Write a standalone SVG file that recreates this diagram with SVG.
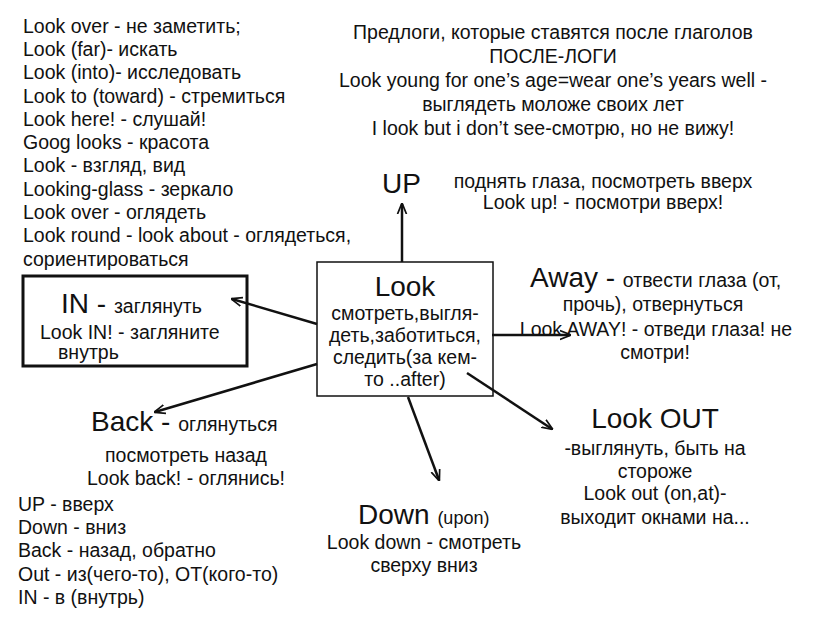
<svg xmlns="http://www.w3.org/2000/svg" width="831" height="623" viewBox="0 0 831 623">
<defs>
<style>
text{font-family:"Liberation Sans",Arial,sans-serif;fill:#111}
.t{font-size:19.5px}
.big{font-size:28px}
.c{text-anchor:middle}
.ln{stroke:#111;stroke-width:2.5;fill:none}
</style>
<marker id="ah" viewBox="0 0 10 10" refX="9" refY="5" markerWidth="4.5" markerHeight="4.5" orient="auto" markerUnits="strokeWidth">
<path d="M0,1 L10,5 L0,9" fill="none" stroke="#111" stroke-width="1.5"/>
</marker>
</defs>
<rect width="831" height="623" fill="#fff"/>

<g id="notes-left">
<text class="t" x="23" y="33">Look over - не заметить;</text>
<text class="t" x="23" y="56">Look (far)- искать</text>
<text class="t" x="23" y="79">Look (into)- исследовать</text>
<text class="t" x="23" y="103">Look to (toward) - стремиться</text>
<text class="t" x="23" y="126">Look here! - слушай!</text>
<text class="t" x="23" y="149">Goog looks - красота</text>
<text class="t" x="23" y="172">Look - взгляд, вид</text>
<text class="t" x="23" y="196">Looking-glass - зеркало</text>
<text class="t" x="23" y="219">Look over - оглядеть</text>
<text class="t" x="23" y="242">Look round - look about - оглядеться,</text>
<text class="t" x="23" y="266">сориентироваться</text>
</g>

<g id="notes-top">
<text class="t c" x="553" y="39">Предлоги, которые ставятся после глаголов</text>
<text class="t c" x="553" y="63">ПОСЛЕ-ЛОГИ</text>
<text class="t c" x="553" y="87">Look young for one’s age=wear one’s years well -</text>
<text class="t c" x="553" y="111">выглядеть моложе своих лет</text>
<text class="t c" x="553" y="135">I look but i don’t see-смотрю, но не вижу!</text>
</g>

<g id="look">
<rect x="317" y="262" width="176" height="134" fill="#fff" stroke="#111" stroke-width="1.5"/>
<text class="big c" x="405" y="296">Look</text>
<text class="t c" x="405" y="320">смотреть,выгля-</text>
<text class="t c" x="405" y="342">деть,заботиться,</text>
<text class="t c" x="405" y="364">следить(за кем-</text>
<text class="t c" x="405" y="386">то ..after)</text>
</g>

<g id="up">
<text class="big" x="382" y="193">UP</text>
<text class="t c" x="603" y="188">поднять глаза, посмотреть вверх</text>
<text class="t c" x="603" y="209">Look up! - посмотри вверх!</text>
</g>

<g id="in">
<rect x="23" y="276" width="224" height="90" fill="none" stroke="#111" stroke-width="3"/>
<text x="61" y="313"><tspan class="big">IN - </tspan><tspan class="t">заглянуть</tspan></text>
<text class="t" x="40" y="339">Look IN! - загляните</text>
<text class="t" x="58" y="359">внутрь</text>
</g>

<g id="back">
<text x="91" y="431"><tspan class="big">Back - </tspan><tspan class="t">оглянуться</tspan></text>
<text class="t c" x="186" y="462">посмотреть назад</text>
<text class="t c" x="186" y="485">Look back! - оглянись!</text>
</g>

<g id="notes-bottom">
<text class="t" x="18" y="511">UP - вверх</text>
<text class="t" x="18" y="534">Down - вниз</text>
<text class="t" x="18" y="557">Back - назад, обратно</text>
<text class="t" x="18" y="581">Out - из(чего-то), ОТ(кого-то)</text>
<text class="t" x="18" y="604">IN - в (внутрь)</text>
</g>

<g id="away">
<text x="530" y="287"><tspan class="big">Away - </tspan><tspan class="t">отвести глаза (от,</tspan></text>
<text class="t c" x="653" y="311">прочь), отвернуться</text>
<text class="t c" x="656" y="336">Look AWAY! - отведи глаза! не</text>
<text class="t c" x="655" y="359">смотри!</text>
</g>

<g id="out">
<text class="big c" x="655" y="428">Look OUT</text>
<text class="t c" x="655" y="455">-выглянуть, быть на</text>
<text class="t c" x="655" y="478">стороже</text>
<text class="t c" x="655" y="500">Look out (on,at)-</text>
<text class="t c" x="655" y="524">выходит окнами на...</text>
</g>

<g id="down">
<text x="358" y="524"><tspan class="big">Down </tspan><tspan style="font-size:18px">(upon)</tspan></text>
<text class="t c" x="424" y="549">Look down - смотреть</text>
<text class="t c" x="424" y="572">сверху вниз</text>
</g>

<g id="connectors">
<line class="ln" x1="402" y1="262" x2="402" y2="204" marker-end="url(#ah)"/>
<line class="ln" x1="317" y1="324" x2="232" y2="299" marker-end="url(#ah)"/>
<line class="ln" x1="317" y1="364" x2="155" y2="412" marker-end="url(#ah)"/>
<line class="ln" x1="492" y1="335" x2="570" y2="335" marker-end="url(#ah)"/>
<line class="ln" x1="467" y1="373" x2="552" y2="429" marker-end="url(#ah)"/>
<line class="ln" x1="408" y1="397" x2="439" y2="480" marker-end="url(#ah)"/>
</g>
</svg>
